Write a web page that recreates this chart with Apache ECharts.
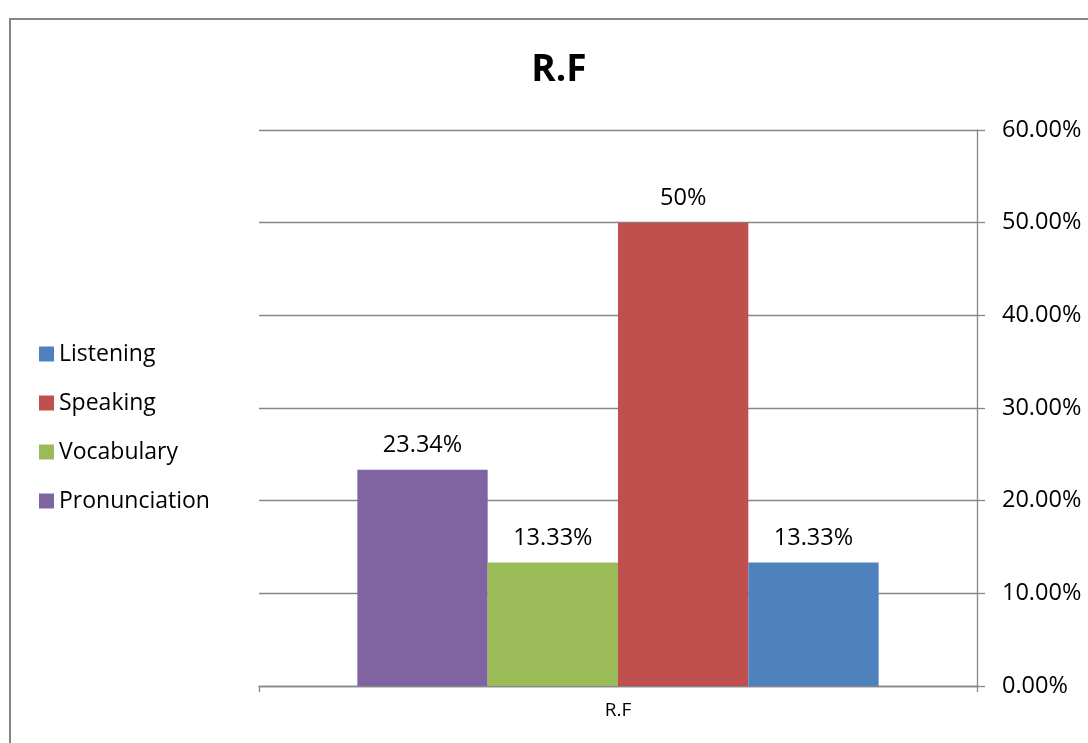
<!DOCTYPE html>
<html>
<head>
<meta charset="utf-8">
<title>R.F</title>
<script src="https://cdn.jsdelivr.net/npm/echarts@6/dist/echarts.min.js"></script>
<style>
  html, body { margin: 0; padding: 0; background: #ffffff; }
  #chart { width: 1088px; height: 743px; }
</style>
</head>
<body>
<div id="chart"></div>
<script>
// Chart data
const chartTitle = 'R.F';
const categories = ['R.F'];
const pronunciation = [0.2334];
const vocabulary = [0.1333];
const speaking = [0.5];
const listening = [0.1333];
// Bars left to right
const seriesNames = ['Pronunciation', 'Vocabulary', 'Speaking', 'Listening'];
// Legend top to bottom
const legendOrder = ['Listening', 'Speaking', 'Vocabulary', 'Pronunciation'];
const yMin = 0;
const yMax = 0.6;
const yStep = 0.1;

const FONT = '"Open Sans", "Noto Sans", sans-serif';
const GRID_GRAY = '#868686';
const colors = {
  Pronunciation: '#8064A2',
  Vocabulary: '#9BBB59',
  Speaking: '#C0504D',
  Listening: '#4F81BD'
};
const values = {
  Pronunciation: pronunciation,
  Vocabulary: vocabulary,
  Speaking: speaking,
  Listening: listening
};

// Percent label with trailing zeros trimmed (0.5 -> 50%, 0.2334 -> 23.34%)
function pctLabel(v) {
  return (v * 100).toFixed(2).replace(/\.?0+$/, '') + '%';
}

const chart = echarts.init(document.getElementById('chart'), null, { renderer: 'canvas' });

const series = seriesNames.map(name => ({
  name: name,
  type: 'bar',
  data: values[name],
  barWidth: '18.15%',
  barGap: '0%',
  itemStyle: { color: colors[name] },
  label: {
    show: true,
    position: 'top',
    distance: 12,
    formatter: p => pctLabel(p.value),
    fontFamily: FONT,
    fontSize: 23.5,
    color: '#000000'
  }
}));

chart.setOption({
  animation: false,
  backgroundColor: '#ffffff',
  textStyle: { fontFamily: FONT },
  graphic: [{
    type: 'rect',
    shape: { x: 10, y: 19, width: 1200, height: 900 },
    style: { fill: 'none', stroke: GRID_GRAY, lineWidth: 2 },
    silent: true
  }],
  title: {
    text: chartTitle,
    left: 554,
    top: 47,
    textAlign: 'center',
    textStyle: { fontFamily: FONT, fontSize: 37, fontWeight: 'bold', color: '#000000' }
  },
  legend: {
    data: legendOrder,
    orient: 'vertical',
    left: 39,
    top: 342,
    padding: 0,
    icon: 'rect',
    itemWidth: 15,
    itemHeight: 15,
    itemGap: 25,
    textStyle: { fontFamily: FONT, fontSize: 23, color: '#000000', lineHeight: 24 },
    selectedMode: false
  },
  grid: { left: 259, right: 111, top: 130, bottom: 57, containLabel: false },
  xAxis: {
    type: 'category',
    data: categories,
    axisLine: { lineStyle: { color: GRID_GRAY, width: 1.3 } },
    axisTick: { show: true, length: 6, lineStyle: { color: GRID_GRAY, width: 1.3 } },
    axisLabel: { fontFamily: FONT, fontSize: 19, color: '#000000', margin: 15 }
  },
  yAxis: {
    type: 'value',
    position: 'right',
    min: yMin,
    max: yMax,
    interval: yStep,
    axisLine: { show: true, lineStyle: { color: GRID_GRAY, width: 1.3 } },
    axisTick: { show: true, length: 8, lineStyle: { color: GRID_GRAY, width: 1.3 } },
    splitLine: { show: true, lineStyle: { color: GRID_GRAY, width: 1.3 } },
    axisLabel: {
      fontFamily: FONT,
      fontSize: 23.5,
      color: '#000000',
      margin: 25,
      formatter: v => (v * 100).toFixed(2) + '%'
    }
  },
  series: series
});
</script>
</body>
</html>
